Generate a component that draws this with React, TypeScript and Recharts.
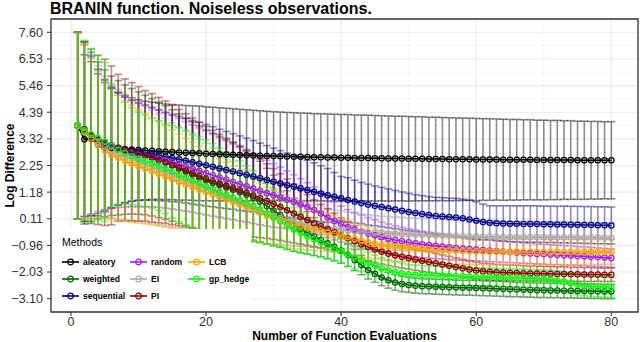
import React from "react";
import {
  LineChart,
  Line,
  XAxis,
  YAxis,
  CartesianGrid,
  ErrorBar,
  ReferenceArea,
  Label,
} from "recharts";

const evaluations = Array.from({ length: 80 }, (_, i) => i + 1);

const aleatoryMean = [
  3.85, 3.3, 3.32, 3.08, 2.98, 2.95, 2.93, 2.91, 2.89, 2.87,
  2.85, 2.84, 2.82, 2.8, 2.79, 2.77, 2.76, 2.75, 2.74, 2.72,
  2.71, 2.7, 2.69, 2.68, 2.67, 2.66, 2.65, 2.64, 2.63, 2.63,
  2.62, 2.61, 2.6, 2.6, 2.59, 2.58, 2.58, 2.57, 2.57, 2.56,
  2.56, 2.55, 2.55, 2.55, 2.54, 2.54, 2.53, 2.53, 2.53, 2.52,
  2.52, 2.52, 2.51, 2.51, 2.51, 2.5, 2.5, 2.5, 2.5, 2.49,
  2.49, 2.49, 2.49, 2.48, 2.48, 2.48, 2.48, 2.48, 2.47, 2.47,
  2.47, 2.47, 2.47, 2.47, 2.46, 2.46, 2.46, 2.46, 2.46, 2.46,
];
const aleatorySd = [
  3.75, 3.4, 3.1, 2.85, 2.6, 2.4, 2.25, 2.15, 2.08, 2.02,
  1.98, 1.95, 1.93, 1.92, 1.91, 1.91, 1.9, 1.9, 1.9, 1.89,
  1.88, 1.87, 1.86, 1.85, 1.84, 1.83, 1.82, 1.81, 1.8, 1.78,
  1.78, 1.77, 1.77, 1.76, 1.76, 1.75, 1.75, 1.75, 1.74, 1.74,
  1.74, 1.73, 1.73, 1.72, 1.72, 1.71, 1.71, 1.7, 1.7, 1.7,
  1.69, 1.69, 1.68, 1.68, 1.67, 1.67, 1.66, 1.66, 1.65, 1.65,
  1.64, 1.64, 1.63, 1.63, 1.62, 1.62, 1.61, 1.61, 1.6, 1.6,
  1.59, 1.59, 1.58, 1.58, 1.57, 1.57, 1.56, 1.56, 1.55, 1.55,
];

const weightedMean = [
  3.85, 3.6, 3.4, 3.26, 3.14, 3.04, 2.96, 2.89, 2.82, 2.75,
  2.67, 2.58, 2.48, 2.37, 2.25, 2.12, 2.0, 1.88, 1.76, 1.65,
  1.55, 1.46, 1.37, 1.28, 1.18, 1.07, 0.95, 0.8, 0.62, 0.44,
  0.26, 0.06, -0.13, -0.3, -0.45, -0.6, -0.74, -0.88, -1.02, -1.17,
  -1.35, -1.55, -1.75, -1.95, -2.1, -2.25, -2.36, -2.45, -2.51, -2.55,
  -2.58, -2.6, -2.61, -2.62, -2.63, -2.64, -2.65, -2.66, -2.66, -2.67,
  -2.68, -2.69, -2.7, -2.71, -2.72, -2.73, -2.74, -2.75, -2.76, -2.76,
  -2.77, -2.77, -2.78, -2.78, -2.79, -2.79, -2.8, -2.8, -2.81, -2.81,
];
const weightedSd = [
  3.75, 3.6, 3.4, 3.15, 2.95, 2.8, 2.7, 2.6, 2.52, 2.46,
  2.4, 2.36, 2.32, 2.28, 2.24, 2.2, 2.16, 2.12, 2.08, 2.04,
  2.0, 1.96, 1.92, 1.88, 1.82, 1.76, 1.7, 1.62, 1.52, 1.42,
  1.3, 1.18, 1.06, 0.95, 0.85, 0.76, 0.68, 0.61, 0.55, 0.5,
  0.46, 0.42, 0.39, 0.36, 0.34, 0.33, 0.32, 0.31, 0.31, 0.3,
  0.3, 0.3, 0.3, 0.3, 0.3, 0.3, 0.3, 0.3, 0.3, 0.3,
  0.3, 0.3, 0.3, 0.3, 0.3, 0.29, 0.29, 0.29, 0.29, 0.29,
  0.29, 0.29, 0.29, 0.29, 0.29, 0.29, 0.29, 0.29, 0.29, 0.29,
];

const sequentialMean = [
  3.85, 3.7, 3.45, 3.22, 3.06, 2.96, 2.91, 2.87, 2.84, 2.8,
  2.76, 2.71, 2.66, 2.6, 2.55, 2.5, 2.44, 2.38, 2.32, 2.26,
  2.2, 2.13, 2.07, 2.01, 1.94, 1.88, 1.81, 1.74, 1.67, 1.6,
  1.53, 1.46, 1.4, 1.33, 1.26, 1.19, 1.12, 1.05, 0.99, 0.93,
  0.86, 0.8, 0.74, 0.68, 0.63, 0.58, 0.53, 0.48, 0.43, 0.38,
  0.34, 0.3, 0.26, 0.22, 0.2, 0.18, 0.16, 0.13, 0.08, 0.03,
  -0.02, -0.05, -0.07, -0.08, -0.09, -0.09, -0.1, -0.1, -0.1, -0.11,
  -0.11, -0.12, -0.12, -0.13, -0.13, -0.14, -0.14, -0.15, -0.15, -0.16,
];
const sequentialSd = [
  3.75, 3.5, 3.2, 2.9, 2.62, 2.42, 2.26, 2.12, 2.02, 1.95,
  1.9, 1.86, 1.82, 1.78, 1.75, 1.72, 1.7, 1.68, 1.66, 1.64,
  1.61, 1.58, 1.55, 1.52, 1.5, 1.47, 1.44, 1.41, 1.38, 1.35,
  1.32, 1.29, 1.26, 1.23, 1.2, 1.17, 1.12, 1.08, 0.98, 0.88,
  0.9, 0.86, 0.83, 0.82, 0.8, 0.79, 0.78, 0.77, 0.76, 0.75,
  0.74, 0.74, 0.74, 0.75, 0.76, 0.76, 0.77, 0.77, 0.78, 0.76,
  0.72, 0.68, 0.7, 0.71, 0.72, 0.72, 0.73, 0.73, 0.73, 0.73,
  0.73, 0.73, 0.74, 0.74, 0.74, 0.74, 0.74, 0.74, 0.74, 0.74,
];

const randomMean = [
  3.85, 3.65, 3.45, 3.25, 3.1, 2.98, 2.88, 2.8, 2.74, 2.69,
  2.64, 2.59, 2.53, 2.46, 2.38, 2.3, 2.22, 2.13, 2.04, 1.95,
  1.86, 1.77, 1.68, 1.59, 1.5, 1.41, 1.32, 1.23, 1.14, 1.05,
  0.96, 0.87, 0.78, 0.68, 0.58, 0.46, 0.32, 0.16, 0.02, -0.1,
  -0.22, -0.32, -0.4, -0.48, -0.55, -0.62, -0.68, -0.74, -0.79, -0.84,
  -0.88, -0.92, -0.95, -0.98, -1.01, -1.04, -1.07, -1.09, -1.11, -1.13,
  -1.15, -1.17, -1.19, -1.21, -1.23, -1.25, -1.27, -1.28, -1.3, -1.31,
  -1.33, -1.34, -1.36, -1.37, -1.39, -1.4, -1.42, -1.43, -1.45, -1.47,
];
const randomSd = [
  3.75, 3.45, 3.15, 2.85, 2.62, 2.45, 2.32, 2.22, 2.15, 2.1,
  2.05, 2.0, 1.96, 1.92, 1.88, 1.84, 1.8, 1.76, 1.72, 1.68,
  1.64, 1.6, 1.56, 1.52, 1.48, 1.44, 1.4, 1.36, 1.32, 1.28,
  1.22, 1.16, 1.1, 1.04, 0.98, 0.92, 0.86, 0.8, 0.76, 0.72,
  0.7, 0.68, 0.66, 0.64, 0.62, 0.6, 0.58, 0.57, 0.56, 0.55,
  0.54, 0.53, 0.52, 0.51, 0.5, 0.49, 0.48, 0.47, 0.46, 0.45,
  0.44, 0.44, 0.43, 0.43, 0.42, 0.42, 0.41, 0.41, 0.4, 0.4,
  0.4, 0.39, 0.39, 0.39, 0.38, 0.38, 0.38, 0.37, 0.37, 0.37,
];

const eiMean = [
  3.85, 3.62, 3.42, 3.2, 3.0, 2.84, 2.7, 2.6, 2.5, 2.4,
  2.3, 2.2, 2.09, 1.98, 1.87, 1.76, 1.65, 1.55, 1.45, 1.34,
  1.22, 1.1, 0.98, 0.86, 0.75, 0.64, 0.53, 0.42, 0.32, 0.22,
  0.13, 0.05, -0.02, -0.08, -0.13, -0.18, -0.22, -0.26, -0.3, -0.33,
  -0.36, -0.39, -0.41, -0.43, -0.45, -0.47, -0.48, -0.49, -0.5, -0.51,
  -0.52, -0.53, -0.54, -0.55, -0.56, -0.57, -0.58, -0.59, -0.6, -0.6,
  -0.61, -0.61, -0.61, -0.62, -0.62, -0.62, -0.62, -0.62, -0.62, -0.62,
  -0.63, -0.63, -0.63, -0.63, -0.64, -0.64, -0.64, -0.64, -0.65, -0.65,
];
const eiSd = [
  3.75, 3.55, 3.3, 3.05, 2.85, 2.7, 2.6, 2.52, 2.46, 2.4,
  2.34, 2.28, 2.22, 2.16, 2.1, 2.04, 1.98, 1.92, 1.86, 1.8,
  1.74, 1.68, 1.62, 1.56, 1.5, 1.43, 1.36, 1.28, 1.2, 1.12,
  1.05, 1.0, 0.96, 0.92, 0.88, 0.85, 0.82, 0.79, 0.77, 0.75,
  0.73, 0.72, 0.71, 0.7, 0.69, 0.68, 0.68, 0.67, 0.67, 0.66,
  0.66, 0.66, 0.65, 0.65, 0.65, 0.65, 0.64, 0.64, 0.64, 0.64,
  0.64, 0.64, 0.63, 0.63, 0.63, 0.63, 0.63, 0.63, 0.62, 0.62,
  0.62, 0.62, 0.62, 0.62, 0.62, 0.62, 0.61, 0.61, 0.61, 0.61,
];

const piMean = [
  3.85, 3.62, 3.42, 3.28, 3.18, 3.06, 2.96, 2.88, 2.8, 2.72,
  2.64, 2.56, 2.47, 2.38, 2.27, 2.16, 2.05, 1.94, 1.83, 1.72,
  1.62, 1.52, 1.43, 1.34, 1.25, 1.15, 1.04, 0.93, 0.82, 0.7,
  0.58, 0.45, 0.32, 0.19, 0.06, -0.07, -0.19, -0.31, -0.43, -0.55,
  -0.67, -0.79, -0.91, -1.02, -1.12, -1.21, -1.29, -1.36, -1.42, -1.47,
  -1.53, -1.58, -1.63, -1.68, -1.73, -1.78, -1.83, -1.88, -1.93, -1.97,
  -2.0, -2.02, -2.04, -2.05, -2.06, -2.07, -2.08, -2.09, -2.09, -2.1,
  -2.1, -2.11, -2.11, -2.12, -2.12, -2.13, -2.13, -2.13, -2.14, -2.14,
];
const piSd = [
  3.75, 3.62, 3.5, 3.4, 3.34, 3.19, 2.95, 2.85, 2.78, 2.7,
  2.62, 2.58, 2.52, 2.46, 2.4, 2.34, 2.28, 2.22, 2.16, 2.1,
  2.04, 1.98, 1.92, 1.86, 1.8, 1.74, 1.66, 1.58, 1.5, 1.42,
  1.34, 1.26, 1.18, 1.1, 1.02, 0.95, 0.88, 0.82, 0.76, 0.7,
  0.66, 0.62, 0.58, 0.55, 0.52, 0.5, 0.48, 0.46, 0.45, 0.44,
  0.43, 0.42, 0.41, 0.4, 0.39, 0.38, 0.37, 0.36, 0.35, 0.34,
  0.33, 0.33, 0.32, 0.32, 0.31, 0.31, 0.3, 0.3, 0.3, 0.3,
  0.29, 0.29, 0.29, 0.28, 0.28, 0.28, 0.28, 0.27, 0.27, 0.27,
];

const lcbMean = [
  3.85, 3.6, 3.34, 3.08, 2.85, 2.68, 2.55, 2.43, 2.32, 2.22,
  2.12, 2.02, 1.92, 1.81, 1.7, 1.59, 1.48, 1.38, 1.28, 1.18,
  1.08, 0.98, 0.88, 0.78, 0.68, 0.57, 0.46, 0.35, 0.24, 0.14,
  0.05, -0.04, -0.12, -0.19, -0.26, -0.32, -0.38, -0.44, -0.5, -0.56,
  -0.63, -0.7, -0.77, -0.84, -0.9, -0.95, -0.99, -1.02, -1.04, -1.06,
  -1.08, -1.1, -1.12, -1.14, -1.15, -1.16, -1.17, -1.18, -1.19, -1.2,
  -1.2, -1.21, -1.21, -1.22, -1.22, -1.22, -1.23, -1.23, -1.23, -1.23,
  -1.23, -1.23, -1.23, -1.23, -1.22, -1.22, -1.22, -1.22, -1.22, -1.22,
];
const lcbSd = [
  3.75, 3.5, 3.2, 2.95, 2.75, 2.6, 2.5, 2.42, 2.35, 2.28,
  2.22, 2.16, 2.1, 2.04, 1.98, 1.92, 1.86, 1.8, 1.74, 1.68,
  1.62, 1.56, 1.5, 1.44, 1.38, 1.32, 1.26, 1.2, 1.14, 1.08,
  1.04, 1.0, 0.96, 0.92, 0.88, 0.84, 0.8, 0.77, 0.74, 0.71,
  0.68, 0.66, 0.64, 0.62, 0.6, 0.59, 0.58, 0.57, 0.56, 0.56,
  0.55, 0.55, 0.55, 0.54, 0.54, 0.54, 0.54, 0.53, 0.53, 0.53,
  0.53, 0.53, 0.52, 0.52, 0.52, 0.52, 0.52, 0.52, 0.51, 0.51,
  0.51, 0.51, 0.51, 0.51, 0.51, 0.5, 0.5, 0.5, 0.5, 0.5,
];

const gpHedgeMean = [
  3.85, 3.66, 3.5, 3.36, 3.2, 3.04, 2.88, 2.74, 2.62, 2.52,
  2.43, 2.34, 2.24, 2.12, 2.0, 1.88, 1.76, 1.64, 1.52, 1.4,
  1.29, 1.18, 1.07, 0.96, 0.85, 0.74, 0.62, 0.48, 0.32, 0.16,
  0.0, -0.16, -0.32, -0.46, -0.6, -0.72, -0.84, -0.96, -1.08, -1.2,
  -1.32, -1.44, -1.56, -1.67, -1.78, -1.88, -1.96, -2.03, -2.08, -2.12,
  -2.14, -2.15, -2.16, -2.17, -2.18, -2.19, -2.2, -2.2, -2.21, -2.22,
  -2.23, -2.23, -2.24, -2.25, -2.26, -2.27, -2.28, -2.29, -2.3, -2.31,
  -2.33, -2.36, -2.42, -2.48, -2.54, -2.58, -2.61, -2.63, -2.64, -2.65,
];
const gpHedgeSd = [
  3.75, 3.62, 3.45, 3.3, 3.2, 2.45, 2.2, 2.05, 1.95, 1.88,
  1.84, 1.8, 1.8, 1.8, 1.85, 1.88, 1.9, 1.9, 1.9, 1.88,
  1.84, 1.78, 1.72, 1.65, 1.58, 1.5, 1.42, 1.32, 1.22, 1.12,
  1.04, 0.96, 0.88, 0.8, 0.72, 0.66, 0.6, 0.55, 0.51, 0.48,
  0.47, 0.46, 0.45, 0.44, 0.43, 0.42, 0.41, 0.4, 0.4, 0.39,
  0.39, 0.38, 0.38, 0.38, 0.37, 0.37, 0.37, 0.37, 0.36, 0.36,
  0.36, 0.36, 0.36, 0.36, 0.36, 0.36, 0.36, 0.36, 0.36, 0.36,
  0.37, 0.38, 0.39, 0.4, 0.4, 0.4, 0.4, 0.4, 0.4, 0.4,
];

const yTicks = [7.6, 6.53, 5.46, 4.39, 3.32, 2.25, 1.18, 0.11, -0.96, -2.03, -3.1];
const yMinor = [7.065, 5.995, 4.925, 3.855, 2.785, 1.715, 0.645, -0.425, -1.495, -2.565];
const xTicks = [0, 20, 40, 60, 80];
const xMinor = [10, 30, 50, 70];

const X_DOMAIN: [number, number] = [-2.95, 83.95];
const Y_DOMAIN: [number, number] = [-3.635, 8.135];

const series = [
  { key: "aleatory", mean: aleatoryMean, sd: aleatorySd, color: "#000000", bar: "rgba(0,0,0,0.45)" },
  { key: "weighted", mean: weightedMean, sd: weightedSd, color: "#006400", bar: "rgba(0,100,0,0.5)" },
  { key: "sequential", mean: sequentialMean, sd: sequentialSd, color: "#00008B", bar: "rgba(0,0,139,0.45)" },
  { key: "random", mean: randomMean, sd: randomSd, color: "#A020F0", bar: "rgba(160,32,240,0.45)" },
  { key: "EI", mean: eiMean, sd: eiSd, color: "#A9A9A9", bar: "rgba(169,169,169,0.55)" },
  { key: "PI", mean: piMean, sd: piSd, color: "#8B0000", bar: "rgba(139,0,0,0.45)" },
  { key: "LCB", mean: lcbMean, sd: lcbSd, color: "#FFA500", bar: "rgba(255,165,0,0.5)" },
  { key: "gp_hedge", mean: gpHedgeMean, sd: gpHedgeSd, color: "#00FF00", bar: "rgba(0,255,0,0.5)" },
];

const data = evaluations.map((x, i) => {
  const row: Record<string, number> = { x };
  series.forEach((s) => {
    row[s.key] = s.mean[i];
    row[s.key + "_sd"] = s.sd[i];
  });
  return row;
});

const fmt = (v: number) => (v < 0 ? "\u2212" + Math.abs(v).toFixed(2) : v.toFixed(2));

// legend columns are filled top to bottom, like ggplot's guide
const legendCols = [62, 130, 188];
const legendRows = [262, 279, 296];

const LegendKey = ({ color }: { color: string }) => (
  <svg width={17} height={10} style={{ display: "block" }}>
    <line x1={0} x2={17} y1={5} y2={5} stroke={color} strokeWidth={1.6} />
    <circle cx={8.5} cy={5} r={2.8} fill="none" stroke={color} strokeWidth={1.2} />
  </svg>
);

const YTitle = (props: any) => {
  const vb = props.viewBox || { x: 0, y: 19, height: 293 };
  const cx = 10;
  const cy = vb.y + vb.height / 2;
  return (
    <text
      x={cx}
      y={cy}
      transform={`rotate(-90 ${cx} ${cy})`}
      textAnchor="middle"
      dominantBaseline="central"
      style={{ fontSize: 12, fontWeight: 700, fill: "#000" }}
    >
      Log Difference
    </text>
  );
};

export default function App() {
  return (
    <div
      style={{
        position: "absolute",
        left: 0,
        top: 0,
        width: 640,
        height: 342,
        background: "#fff",
        fontFamily: "'Liberation Sans', Arial, sans-serif",
        overflow: "hidden",
      }}
    >
      <div
        style={{
          position: "absolute",
          left: 50,
          top: 1,
          fontSize: 16,
          lineHeight: "16px",
          fontWeight: 700,
          color: "#000",
          whiteSpace: "nowrap",
        }}
      >
        BRANIN function. Noiseless observations.
      </div>

      <LineChart
        width={640}
        height={342}
        data={data}
        margin={{ top: 19, right: 2, bottom: 0, left: 0 }}
      >
        <CartesianGrid
          horizontalValues={yMinor}
          verticalValues={xMinor}
          stroke="#F2F2F2"
          strokeWidth={0.6}
        />
        <CartesianGrid
          horizontalValues={yTicks}
          verticalValues={xTicks}
          stroke="#EBEBEB"
          strokeWidth={1.1}
        />
        <XAxis
          type="number"
          dataKey="x"
          domain={X_DOMAIN}
          ticks={xTicks}
          allowDataOverflow
          height={30}
          axisLine={false}
          tickLine={{ stroke: "#333" }}
          tickSize={4}
          tickMargin={1}
          tick={{ fontSize: 12.5, fill: "#333" }}
        >
          <Label
            value="Number of Function Evaluations"
            position="insideBottom"
            offset={2}
            style={{ fontSize: 12, fontWeight: 700, fill: "#000" }}
          />
        </XAxis>
        <YAxis
          type="number"
          domain={Y_DOMAIN}
          ticks={yTicks}
          allowDataOverflow
          width={51}
          axisLine={false}
          tickLine={{ stroke: "#333" }}
          tickSize={4}
          tickMargin={4}
          tickFormatter={fmt}
          tick={{ fontSize: 12.5, fill: "#333" }}
          label={{ content: YTitle }}
        />

        {series.map((s) => (
          <Line
            key={s.key + "-bars"}
            dataKey={s.key}
            stroke="none"
            dot={false}
            activeDot={false}
            legendType="none"
            isAnimationActive={false}
          >
            <ErrorBar
              dataKey={s.key + "_sd"}
              direction="y"
              width={4}
              stroke={s.bar}
              strokeWidth={1.6}
            />
          </Line>
        ))}

        {series.map((s) => (
          <Line
            key={s.key}
            dataKey={s.key}
            stroke={s.color}
            strokeWidth={1.6}
            dot={{ r: 2.7, fill: "none", stroke: s.color, strokeWidth: 1.2 }}
            activeDot={false}
            isAnimationActive={false}
          />
        ))}

        <ReferenceArea
          x1={X_DOMAIN[0]}
          x2={X_DOMAIN[1]}
          y1={Y_DOMAIN[0]}
          y2={Y_DOMAIN[1]}
          fill="none"
          stroke="#333"
          strokeWidth={1.3}
          ifOverflow="visible"
        />
      </LineChart>

      <div
        style={{
          position: "absolute",
          left: 52,
          top: 229,
          width: 199,
          height: 81,
          background: "#fff",
        }}
      >
        <div
          style={{
            position: "absolute",
            left: 10,
            top: 6,
            fontSize: 10.5,
            lineHeight: "14px",
            color: "#000",
          }}
        >
          Methods
        </div>
        {series.map((s, i) => {
          const col = Math.floor(i / 3);
          const row = i % 3;
          return (
            <div
              key={s.key}
              style={{
                position: "absolute",
                left: legendCols[col] - 52,
                top: legendRows[row] - 229 - 6,
                height: 12,
                display: "flex",
                alignItems: "center",
              }}
            >
              <LegendKey color={s.color} />
              <span
                style={{
                  marginLeft: 4,
                  fontSize: 8.5,
                  fontWeight: 700,
                  color: "#000",
                  whiteSpace: "nowrap",
                }}
              >
                {s.key}
              </span>
            </div>
          );
        })}
      </div>
    </div>
  );
}
